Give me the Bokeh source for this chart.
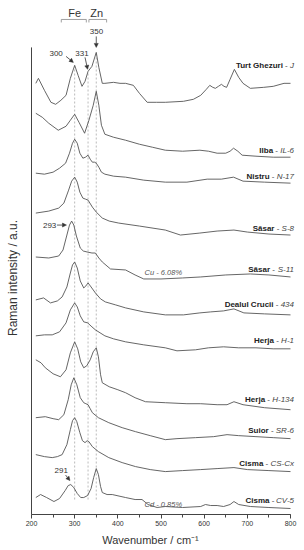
import math
import numpy as np
from bokeh.plotting import figure
from bokeh.models import (Range1d, SingleIntervalTicker, Label, Arrow, NormalHead, ColumnDataSource)
from bokeh.core.properties import value
from bokeh.embed import file_html
from bokeh.resources import INLINE

# ---------------- data ----------------
J_wn = [210, 216, 230, 245, 256, 268, 280, 290, 300, 308, 317, 324, 331, 340, 350, 356, 364, 370, 390, 405,
        418, 436, 450, 468, 490, 510, 552, 575, 592, 605, 613, 620, 626, 633, 640, 646, 652, 660, 670, 680,
        690, 707, 738, 760, 785, 800]
J_int = [432, 437, 425, 413, 411, 415, 420, 437, 450, 440, 429, 434, 444, 449, 463, 448, 432, 432, 433, 432,
         432, 430, 422, 413, 413, 413, 414, 416, 420, 426, 430, 428, 427, 429, 431, 429, 428, 436, 446, 438,
         432, 427, 428, 429, 432, 432]

IL_wn = [210, 225, 240, 262, 280, 290, 300, 310, 323, 333, 343, 350, 356, 362, 370, 390, 418, 450, 480, 510,
         550, 590, 610, 630, 650, 660, 668, 678, 688, 720, 760, 800]
IL_int = [402, 398, 392, 385, 389, 395, 401, 393, 382, 395, 410, 424, 410, 390, 381, 378, 375, 371, 368, 365,
          364, 365, 364, 362, 362, 364, 367, 364, 360, 359, 358, 358]

N_wn = [210, 230, 250, 265, 279, 288, 295, 300, 306, 312, 319, 325, 331, 336, 341, 346, 350, 356, 362, 370,
        390, 418, 460, 510, 560, 607, 640, 668, 690, 740, 800]
N_int = [342, 341, 343, 347, 352, 362, 372, 376, 372, 362, 357, 358, 360, 356, 353, 353, 352, 348, 343, 341,
         339, 338, 335, 333, 333, 336, 336, 338, 334, 333, 332]

S8_wn = [210, 240, 263, 275, 286, 293, 300, 306, 312, 319, 325, 331, 341, 350, 364, 380, 402, 450, 510, 545,
         590, 630, 669, 700, 750, 800]
S8_int = [302, 304, 307, 312, 325, 334, 338, 333, 323, 317, 316, 315, 308, 303, 297, 294, 292, 289, 285, 280,
          282, 284, 285, 283, 281, 280]

S11_wn = [210, 240, 263, 273, 282, 288, 293, 298, 304, 313, 320, 329, 340, 348, 356, 364, 383, 418, 440, 460,
          500, 550, 592, 650, 707, 750, 800]
S11_int = [258, 257, 259, 265, 280, 290, 294, 290, 279, 267, 264, 263, 262, 262, 257, 253, 246, 245, 240, 236,
           236, 237, 238, 240, 241, 240, 238]

D_wn = [210, 228, 244, 260, 271, 282, 290, 295, 300, 306, 313, 321, 326, 331, 338, 348, 360, 371, 395, 418,
        460, 510, 552, 590, 615, 645, 669, 692, 740, 800]
D_int = [215, 217, 212, 214, 218, 228, 242, 250, 253, 247, 234, 227, 229, 232, 228, 222, 216, 213, 210, 207,
         203, 200, 200, 202, 203, 204, 206, 202, 201, 200]

H1_wn = [210, 230, 248, 265, 280, 290, 300, 306, 313, 321, 330, 340, 348, 370, 390, 418, 460, 510, 537, 580,
         610, 645, 680, 720, 760, 800]
H1_int = [179, 180, 180, 183, 192, 205, 212, 208, 199, 193, 192, 188, 185, 179, 176, 173, 170, 167, 164, 165,
          167, 168, 167, 167, 166, 166]

H134_wn = [210, 222, 232, 250, 267, 280, 290, 300, 307, 314, 321, 328, 336, 343, 350, 355, 360, 364, 380, 400,
           418, 440, 464, 510, 560, 592, 630, 653, 669, 690, 740, 800]
H134_int = [155, 152, 147, 141, 138, 145, 162, 173, 166, 153, 147, 149, 155, 163, 167, 158, 140, 132, 128, 125,
            122, 117, 113, 112, 111, 111, 110, 110, 113, 110, 107, 105]

SR_wn = [210, 232, 250, 263, 275, 285, 292, 298, 305, 313, 321, 326, 331, 336, 341, 355, 379, 410, 441, 475,
         510, 537, 580, 622, 653, 680, 720, 760, 800]
SR_int = [97, 98, 96, 95, 100, 115, 130, 137, 130, 117, 112, 111, 110, 106, 102, 97, 92, 87, 83, 79,
          75, 76, 77, 78, 80, 79, 78, 77, 76]

CS_wn = [210, 230, 248, 260, 271, 282, 290, 295, 300, 305, 312, 318, 324, 329, 333, 341, 355, 379, 410, 441,
         475, 510, 550, 592, 630, 669, 700, 750, 800]
CS_int = [60, 58, 57, 58, 60, 70, 85, 94, 97, 93, 82, 74, 72, 74, 73, 68, 63, 57, 52, 48,
          45, 43, 44, 45, 46, 47, 45, 44, 43]

CV_wn = [210, 221, 235, 252, 265, 278, 285, 291, 298, 306, 314, 321, 330, 338, 344, 350, 355, 360, 364, 375,
         387, 418, 440, 456, 470, 491, 510, 550, 592, 603, 615, 630, 645, 660, 669, 680, 707, 750, 800]
CV_int = [17, 20, 17, 13, 16, 24, 29, 30, 27, 21, 17, 17, 19, 26, 37, 46, 40, 28, 22, 20,
          20, 17, 15, 15, 10, 7, 8, 7, 8, 10, 9, 9, 8, 10, 13, 10, 8, 7, 6]

site_names = ["Turt Ghezuri", "Ilba", "Nistru", "Săsar", "Săsar", "Dealul Crucii",
              "Herja", "Herja", "Suior", "Cisma", "Cisma"]
sample_codes = ["J", "IL-6", "N-17", "S-8", "S-11", "434", "H-1", "H-134", "SR-6", "CS-Cx", "CV-5"]

marker_wn = [300, 331, 350]          # dashed reference lines
x_ticks_step = 100
x_min, x_max = 200, 800
y_axis_top = 468

# ---------------- layout / style ----------------
W, H = 300, 548
FRAME_H = 515
LEFT_PX, RIGHT_PX = 31, 290           # where 200 and 800 fall
ppu = (RIGHT_PX - LEFT_PX) / (x_max - x_min)
xs0 = x_min - LEFT_PX / ppu
xs1 = xs0 + W / ppu

FONT = "Liberation Sans"
LINE = "#555555"
spectra = [(J_wn, J_int), (IL_wn, IL_int), (N_wn, N_int), (S8_wn, S8_int), (S11_wn, S11_int),
           (D_wn, D_int), (H1_wn, H1_int), (H134_wn, H134_int), (SR_wn, SR_int), (CS_wn, CS_int),
           (CV_wn, CV_int)]
label_lift = [18, 7, 7, 7, 7, 10, 8, 10, 8, 8, 8]

# Arial / Liberation Sans advance widths (per 1000 em)
REG = {' ': 278, '\u00a0': 278, '-': 333, '.': 278, '%': 889, '/': 278}
for c in '0123456789':
    REG[c] = 556
REG.update({'A': 667, 'B': 667, 'C': 722, 'D': 722, 'E': 667, 'F': 611, 'G': 778, 'H': 722, 'I': 278,
            'J': 500, 'K': 667, 'L': 556, 'M': 833, 'N': 722, 'O': 778, 'P': 667, 'R': 722, 'S': 667,
            'T': 611, 'U': 722, 'x': 500})


def tw(s, table, size):
    return sum(table.get(ch, 556) for ch in s) * size / 1000.0


p = figure(width=W, height=H, output_backend="svg", toolbar_location=None,
           x_range=Range1d(xs0, xs1), y_range=Range1d(0, FRAME_H),
           min_border_left=0, min_border_right=0, min_border_top=0, min_border_bottom=H - FRAME_H)
p.outline_line_color = None
p.grid.visible = False
p.background_fill_color = "white"
p.border_fill_color = "white"
p.yaxis.visible = False

xa = p.xaxis[0]
xa.bounds = (x_min, x_max)
xa.ticker = SingleIntervalTicker(interval=x_ticks_step, num_minor_ticks=2)
xa.major_tick_out = 4
xa.major_tick_in = 0
xa.minor_tick_out = 3
xa.minor_tick_in = 0
xa.major_label_standoff = 2
xa.major_label_text_font = FONT
xa.major_label_text_font_size = "7px"
xa.major_label_text_color = "#333333"
xa.axis_line_color = "#444444"
xa.major_tick_line_color = "#444444"
xa.minor_tick_line_color = "#444444"
xa.axis_label = "Wavenumber / cm⁻¹"
xa.axis_label_text_font = FONT
xa.axis_label_text_font_size = "11px"
xa.axis_label_text_font_style = "normal"
xa.axis_label_text_color = "#333333"
xa.axis_label_standoff = 5

# left axis line
p.segment(x0=[x_min], y0=[0], x1=[x_min], y1=[y_axis_top], line_color="#444444", line_width=1)

# dashed reference lines, reaching up to the top spectrum
tops = list(np.interp(marker_wn, J_wn, J_int))
p.segment(x0=marker_wn, y0=[15] * len(marker_wn), x1=marker_wn, y1=tops,
          line_color="#aaaaaa", line_width=0.8, line_dash="2 2")

for wn, iy in spectra:
    p.line(wn, iy, line_color=LINE, line_width=0.9)

# spectrum labels: bold site + " - " + italic code, right aligned at the right end
fs = 8
ends = [iy[-1] + lift for (wn, iy), lift in zip(spectra, label_lift)]
right_pad = 3.5
dash = "\u00a0-\u00a0"
code_w = [tw(c, REG, fs) for c in sample_codes]
dash_w = tw(dash, REG, fs)
n = len(site_names)
src_code = ColumnDataSource(dict(x=[x_max] * n, y=ends, t=sample_codes, xo=[right_pad] * n))
src_dash = ColumnDataSource(dict(x=[x_max] * n, y=ends, t=[dash] * n,
                                 xo=[right_pad - w for w in code_w]))
src_name = ColumnDataSource(dict(x=[x_max] * n, y=ends, t=site_names,
                                 xo=[right_pad - w - dash_w for w in code_w]))
common = dict(text_align="right", text_baseline="middle", text_font=value(FONT), text_font_size=f"{fs}px")
p.text(x="x", y="y", text="t", x_offset="xo", source=src_code, text_font_style="italic",
       text_color="#444444", **common)
p.text(x="x", y="y", text="t", x_offset="xo", source=src_dash, text_color="#444444", **common)
p.text(x="x", y="y", text="t", x_offset="xo", source=src_name, text_font_style="bold",
       text_color="#222222", **common)

# element notes
p.add_layout(Label(x=462, y=242, text="Cu - 6.08%", text_font=FONT, text_font_size="7.5px",
                   text_font_style="italic", text_color="#555555", text_baseline="middle"))
p.add_layout(Label(x=462, y=10, text="Cd - 0.85%", text_font=FONT, text_font_size="7.5px",
                   text_font_style="italic", text_color="#555555", text_baseline="middle"))

# Fe / Zn brackets
p.add_layout(Label(x=300, y=502, text="Fe", text_font=FONT, text_font_size="11px", text_color="#333333",
                   text_align="center", text_baseline="middle"))
p.add_layout(Label(x=351, y=502, text="Zn", text_font=FONT, text_font_size="11px", text_color="#333333",
                   text_align="center", text_baseline="middle"))
p.multi_line(xs=[[269, 269, 327, 327], [333, 333, 374, 374]],
             ys=[[493, 496, 496, 493], [493, 496, 496, 493]], line_color="#888888", line_width=0.8)


# peak annotations
def note(txt, x, y):
    p.add_layout(Label(x=x, y=y, text=txt, text_font=FONT, text_font_size="8px", text_color="#333333",
                       text_align="center", text_baseline="middle"))


def arrow(x0, y0, x1, y1):
    p.add_layout(Arrow(end=NormalHead(size=4, line_color="#333333", fill_color="#333333", line_width=0.5),
                       x_start=x0, y_start=y0, x_end=x1, y_end=y1, line_color="#333333", line_width=0.8))


note("350", 350.6, 484)
arrow(350, 479, 350, 468)
note("300", 257, 462)
arrow(280, 459, 297, 453)
note("331", 317, 462)
arrow(324, 458, 330, 446)
note("293", 242, 290)
arrow(259, 290, 281, 290)
note("291", 269, 44)
arrow(279, 39.5, 289, 34)

# y axis title
p.add_layout(Label(x=157, y=237, text="Raman intensity / a.u.", text_font=FONT, text_font_size="12px",
                   text_color="#333333", text_align="center", text_baseline="middle", angle=math.pi / 2))

open("out.html", "w").write(file_html(p, INLINE))
